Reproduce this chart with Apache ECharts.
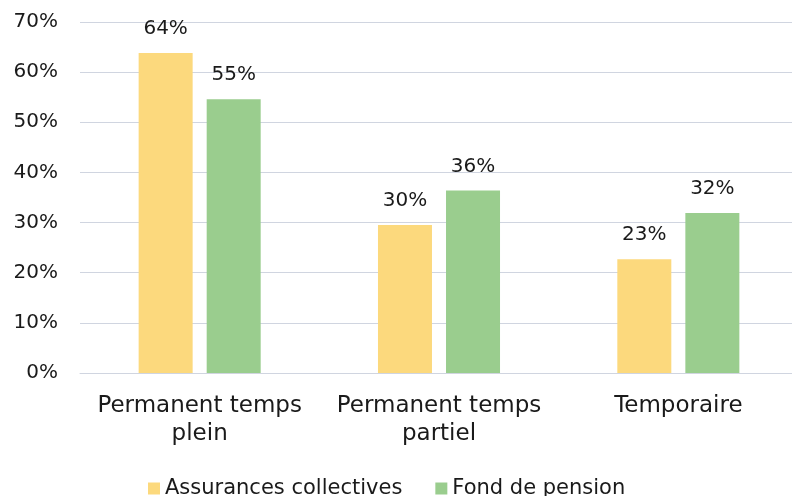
<!DOCTYPE html>
<html>
<head>
<meta charset="utf-8">
<script src="https://cdn.jsdelivr.net/npm/echarts@6/dist/echarts.min.js"></script>
<style>
  html, body { margin: 0; padding: 0; background: #fff; overflow: hidden; }
  #chart { width: 804px; height: 496px; }
</style>
</head>
<body>
<div id="chart"></div>
<script>
// categories and values
var categories = ["Permanent temps\nplein", "Permanent temps\npartiel", "Temporaire"];
var assurances = [63.8, 29.5, 22.7];
var pension = [54.6, 36.4, 31.9];
var seriesNames = ["Assurances collectives", "Fond de pension"];

var FONT = "DejaVu Sans";
var TXT = "#1a1a1a";

var chart = echarts.init(document.getElementById("chart"));
chart.setOption({
  animation: false,
  backgroundColor: "#fff",
  textStyle: { fontFamily: FONT, color: TXT },
  grid: { left: 80, top: 22, width: 718, height: 351, containLabel: false },
  legend: {
    data: seriesNames,
    left: 143,
    top: 473,
    itemWidth: 12,
    itemHeight: 12,
    itemGap: 33,
    icon: "rect",
    textStyle: { fontFamily: FONT, fontSize: 21, color: TXT }
  },
  xAxis: {
    type: "category",
    data: categories,
    axisTick: { show: false },
    axisLine: { lineStyle: { color: "#d0d5e0", width: 1 } },
    axisLabel: {
      fontFamily: FONT, fontSize: 23, color: TXT, margin: 19, lineHeight: 28,
      interval: 0, hideOverlap: false
    }
  },
  yAxis: {
    type: "value",
    min: 0,
    max: 70,
    interval: 10,
    axisLine: { show: false },
    axisTick: { show: false },
    splitLine: { lineStyle: { color: "#d0d5e0", width: 1 } },
    axisLabel: {
      fontFamily: FONT, fontSize: 20, color: TXT, margin: 22,
      formatter: "{value}%"
    }
  },
  series: [
    {
      name: seriesNames[0],
      type: "bar",
      data: assurances,
      barWidth: 54,
      barGap: "26%",
      itemStyle: { color: "#fcd97d" },
      label: {
        show: true, position: "top", distance: 14,
        fontFamily: FONT, fontSize: 20, color: TXT,
        formatter: function (p) { return Math.round(p.value) + "%"; }
      }
    },
    {
      name: seriesNames[1],
      type: "bar",
      data: pension,
      barWidth: 54,
      itemStyle: { color: "#9acd8e" },
      label: {
        show: true, position: "top", distance: 14,
        fontFamily: FONT, fontSize: 20, color: TXT,
        formatter: function (p) { return Math.round(p.value) + "%"; }
      }
    }
  ]
});
</script>
</body>
</html>
